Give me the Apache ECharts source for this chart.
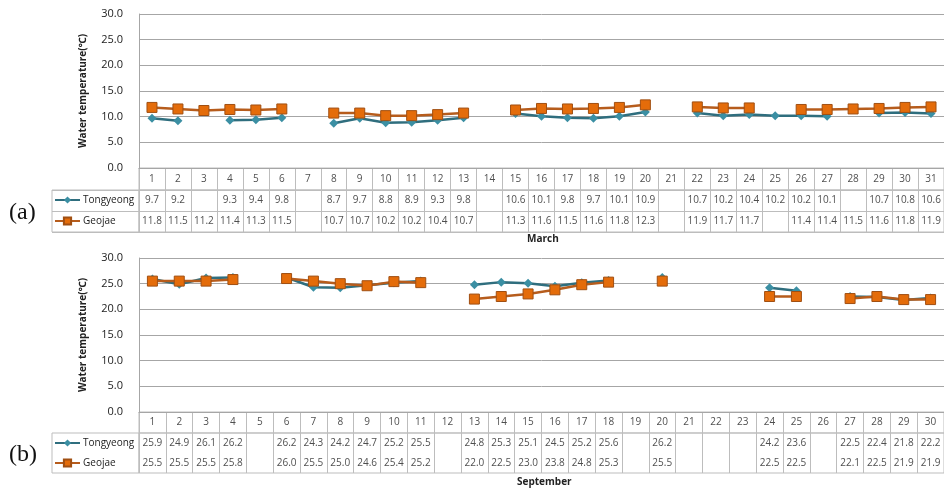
<!DOCTYPE html>
<html>
<head>
<meta charset="utf-8">
<script src="https://cdn.jsdelivr.net/npm/echarts@6/dist/echarts.min.js"></script>
<style>
  html, body { margin: 0; padding: 0; background: #fff; }
  #chart { width: 944px; height: 491px; }
</style>
</head>
<body>
<div id="chart"></div>
<script>
// Daily water temperature (°C) at two stations, March and September
const marchDays = Array.from({ length: 31 }, (_, i) => String(i + 1));
const septDays = Array.from({ length: 30 }, (_, i) => String(i + 1));

const marchTongyeong = [9.7, 9.2, null, 9.3, 9.4, 9.8, null, 8.7, 9.7, 8.8, 8.9, 9.3, 9.8, null,
  10.6, 10.1, 9.8, 9.7, 10.1, 10.9, null, 10.7, 10.2, 10.4, 10.2, 10.2, 10.1, null, 10.7, 10.8, 10.6];
const marchGeojae = [11.8, 11.5, 11.2, 11.4, 11.3, 11.5, null, 10.7, 10.7, 10.2, 10.2, 10.4, 10.7, null,
  11.3, 11.6, 11.5, 11.6, 11.8, 12.3, null, 11.9, 11.7, 11.7, null, 11.4, 11.4, 11.5, 11.6, 11.8, 11.9];

const septTongyeong = [25.9, 24.9, 26.1, 26.2, null, 26.2, 24.3, 24.2, 24.7, 25.2, 25.5, null,
  24.8, 25.3, 25.1, 24.5, 25.2, 25.6, null, 26.2, null, null, null, 24.2, 23.6, null, 22.5, 22.4, 21.8, 22.2];
const septGeojae = [25.5, 25.5, 25.5, 25.8, null, 26.0, 25.5, 25.0, 24.6, 25.4, 25.2, null,
  22.0, 22.5, 23.0, 23.8, 24.8, 25.3, null, 25.5, null, null, null, 22.5, 22.5, null, 22.1, 22.5, 21.9, 21.9];

const stationNames = ['Tongyeong', 'Geojae'];
const yTicks = { min: 0, max: 30, step: 5 };
const axisTitle = 'Water temperature(\u2103)';

const FONT = '"Open Sans", "Noto Sans", sans-serif';
const TEXT = '#222';
const GRID_LINE = '#a6a6a6';
const CELL_LINE = '#bdbdbd';
const TEAL_LINE = '#2f6e7e';
const TEAL_MARK = '#3b8fa3';
const ORANGE_LINE = '#b65c1c';
const ORANGE_MARK = '#e46c0a';

const PLOT_LEFT = 139;
const PLOT_WIDTH = 805;

// Panel geometry: plot area, header row of the data table, body rows
const panels = [
  { days: marchDays, t: marchTongyeong, g: marchGeojae, plotTop: 14, plotH: 154, headH: 22, bodyH: 42, split: true },
  { days: septDays, t: septTongyeong, g: septGeojae, plotTop: 258, plotH: 154, headH: 21, bodyH: 40, split: false }
];

const grid = [], xAxis = [], yAxis = [], series = [], legend = [];

panels.forEach((p, k) => {
  const base = k * 4;
  const headTop = p.plotTop + p.plotH;
  const bodyTop = headTop + p.headH;

  // plot area
  grid.push({ left: PLOT_LEFT, top: p.plotTop, width: PLOT_WIDTH, height: p.plotH });
  xAxis.push({
    type: 'category', data: p.days, gridIndex: base, boundaryGap: true,
    axisLine: { show: true, lineStyle: { color: GRID_LINE } },
    axisTick: { show: false }, axisLabel: { show: false }, splitLine: { show: false }
  });
  yAxis.push({
    type: 'value', gridIndex: base, min: yTicks.min, max: yTicks.max, interval: yTicks.step,
    name: axisTitle, nameLocation: 'middle', nameGap: 51,
    nameTextStyle: { fontFamily: FONT, fontSize: 10, fontWeight: 'bold', color: TEXT },
    axisLine: { show: true, lineStyle: { color: GRID_LINE } },
    axisTick: { show: false },
    axisLabel: { fontFamily: FONT, fontSize: 11, color: TEXT, margin: 16, formatter: v => v.toFixed(1) },
    splitLine: { show: true, lineStyle: { color: GRID_LINE, width: 1 } }
  });

  // table header row (day numbers)
  grid.push({ left: PLOT_LEFT, top: headTop, width: PLOT_WIDTH, height: p.headH, show: true, borderColor: CELL_LINE, borderWidth: 1 });
  xAxis.push({
    type: 'category', data: p.days, gridIndex: base + 1, boundaryGap: true,
    axisLine: { show: false }, axisTick: { show: false }, axisLabel: { show: false },
    splitLine: { show: true, interval: 0, lineStyle: { color: CELL_LINE } }
  });
  yAxis.push({ type: 'category', data: ['day'], gridIndex: base + 1, show: false });

  // table body rows (values)
  grid.push({ left: PLOT_LEFT, top: bodyTop, width: PLOT_WIDTH, height: p.bodyH, show: true, borderColor: CELL_LINE, borderWidth: 1 });
  xAxis.push({
    type: 'category', data: p.days, gridIndex: base + 2, boundaryGap: true,
    axisLine: { show: false }, axisTick: { show: false }, axisLabel: { show: false },
    splitLine: { show: true, interval: 0, lineStyle: { color: CELL_LINE } }
  });
  yAxis.push({
    type: 'category', data: ['Geojae', 'Tongyeong'], gridIndex: base + 2,
    axisLine: { show: false }, axisTick: { show: false }, axisLabel: { show: false },
    splitLine: { show: p.split, interval: 0, lineStyle: { color: CELL_LINE } }
  });

  // legend column of the table
  grid.push({ left: 52, top: bodyTop, width: PLOT_LEFT - 52, height: p.bodyH, show: true, borderColor: CELL_LINE, borderWidth: 1 });
  xAxis.push({ type: 'value', gridIndex: base + 3, show: false, min: 0, max: 1 });
  yAxis.push({
    type: 'category', data: ['Geojae', 'Tongyeong'], gridIndex: base + 3,
    axisLine: { show: false }, axisTick: { show: false }, axisLabel: { show: false },
    splitLine: { show: p.split, interval: 0, lineStyle: { color: CELL_LINE } }
  });

  // lines
  series.push({
    name: 'Tongyeong', type: 'line', xAxisIndex: base, yAxisIndex: base, data: p.t,
    symbol: 'diamond', symbolSize: 9, showAllSymbol: true, connectNulls: false,
    lineStyle: { color: TEAL_LINE, width: 2.5 },
    itemStyle: { color: TEAL_MARK, borderColor: TEAL_MARK, borderWidth: 0 }
  });
  series.push({
    name: 'Geojae', type: 'line', xAxisIndex: base, yAxisIndex: base, data: p.g,
    symbol: 'rect', symbolSize: 10, showAllSymbol: true, connectNulls: false,
    lineStyle: { color: ORANGE_LINE, width: 2.5 },
    itemStyle: { color: ORANGE_MARK, borderColor: '#a04f12', borderWidth: 1 }
  });

  const cellLabel = {
    show: true, position: 'inside', fontFamily: FONT, fontSize: 10, color: TEXT,
    formatter: q => q.value[2]
  };

  // day numbers in the header row
  series.push({
    name: 'day-' + k, type: 'scatter', xAxisIndex: base + 1, yAxisIndex: base + 1,
    symbolSize: 1, itemStyle: { color: 'rgba(0,0,0,0)' }, silent: true,
    data: p.days.map((d, i) => [i, 0, d]), label: cellLabel
  });

  // values in the body rows
  const cells = [];
  p.t.forEach((v, i) => { if (v !== null) cells.push([i, 'Tongyeong', v.toFixed(1)]); });
  p.g.forEach((v, i) => { if (v !== null) cells.push([i, 'Geojae', v.toFixed(1)]); });
  series.push({
    name: 'cells-' + k, type: 'scatter', xAxisIndex: base + 2, yAxisIndex: base + 2,
    symbolSize: 1, itemStyle: { color: 'rgba(0,0,0,0)' }, silent: true,
    data: cells, label: cellLabel
  });

  legend.push({
    data: stationNames, orient: 'vertical', left: 54, top: bodyTop + 4,
    itemWidth: 25, itemHeight: 9, itemGap: p.split ? 9 : 8, padding: 0,
    selectedMode: false,
    textStyle: { fontFamily: FONT, fontSize: 10, color: TEXT, lineHeight: 12, padding: [0, 0, 0, -2] }
  });
});

const chart = echarts.init(document.getElementById('chart'), null, { renderer: 'canvas' });
chart.setOption({
  animation: false,
  backgroundColor: '#fff',
  grid, xAxis, yAxis, series, legend,
  graphic: [
    { type: 'text', left: 9, top: 201, style: { text: '(a)', font: '24px "Liberation Serif", serif', fill: '#111' } },
    { type: 'text', left: 9, top: 443, style: { text: '(b)', font: '24px "Liberation Serif", serif', fill: '#111' } },
    { type: 'text', left: 527, top: 234, style: { text: 'March', font: 'bold 10px "Open Sans", sans-serif', fill: TEXT } },
    { type: 'text', left: 517, top: 477, style: { text: 'September', font: 'bold 10px "Open Sans", sans-serif', fill: TEXT } }
  ]
});
</script>
</body>
</html>
